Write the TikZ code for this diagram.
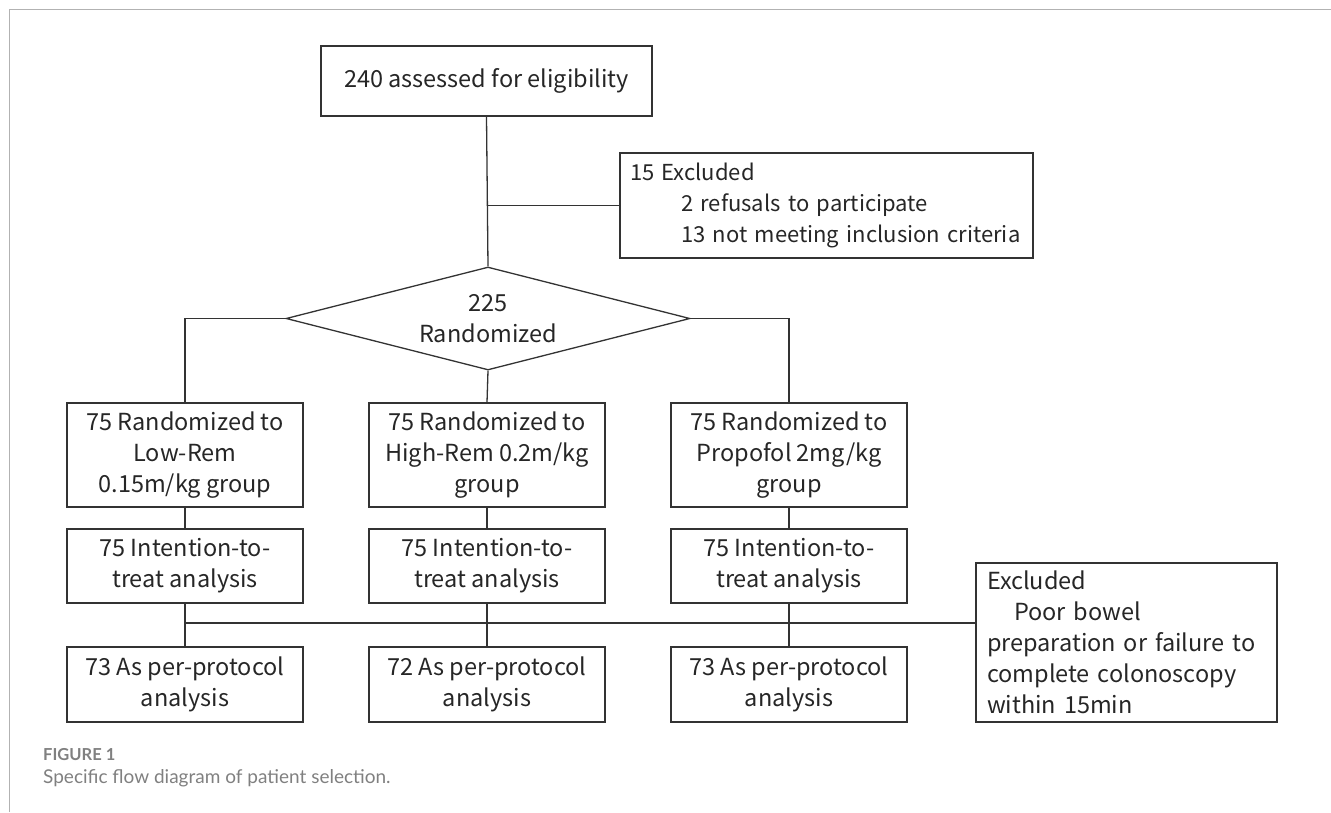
\documentclass[tikz,border=0pt]{standalone}
\usepackage{fontspec}
\setmainfont{Noto Sans CJK SC}
\newfontfamily\capfont{Lato}
\usetikzlibrary{shapes.geometric}
\begin{document}
\begin{tikzpicture}[x=1pt,y=-1pt,
  box/.style={draw=black!80, line width=1.3pt, rectangle, inner sep=0pt, align=center,
    font=\fontsize{23.5}{31}\selectfont, text=black!85},
  lbox/.style={box, align=left, inner xsep=10pt},
  conn/.style={draw=black!80, line width=1.3pt},
  capt/.style={anchor=base west, text=black!50, inner sep=0pt},
]
\useasboundingbox (0,0) rectangle (1331,812);
\draw[black!30, line width=1.5pt] (9.3,812) -- (9.3,9.3) -- (1331,9.3);

\node[box, minimum width=331pt, minimum height=70pt] (elig) at (486.5,81) {240 assessed for eligibility};
\node[lbox, text width=393pt, minimum height=105pt, font=\fontsize{22}{31}\selectfont] (excl1) at (826.5,205.5)
  {\mbox{15 Excluded}\\\mbox{\hspace*{51pt}2 refusals to participate}\\\mbox{\hspace*{51pt}13 not meeting inclusion criteria}};
\node[draw=black!80, line width=1.3pt, diamond, aspect=3.92, minimum width=404pt, minimum height=103pt,
  inner sep=0pt, align=center, font=\fontsize{23.5}{31}\selectfont, text=black!85] (rand) at (488,318.5)
  {225\\Randomized};

\foreach \n/\x in {a/185,b/487,c/789}{
  \node[box, minimum width=236pt, minimum height=104pt] (r1\n) at (\x,455) {};
  \node[box, minimum width=236pt, minimum height=74pt] (r2\n) at (\x,566) {75 Intention-to-\\treat analysis};
}
\node[align=center, font=\fontsize{23.5}{31}\selectfont, text=black!85] (t1a) at (r1a) {75 Randomized to\\Low-Rem\\0.15m/kg group};
\node[align=center, font=\fontsize{23.5}{31}\selectfont, text=black!85] (t1b) at (r1b) {75 Randomized to\\High-Rem 0.2m/kg\\group};
\node[align=center, font=\fontsize{23.5}{31}\selectfont, text=black!85] (t1c) at (r1c) {75 Randomized to\\Propofol 2mg/kg\\group};

\node[box, minimum width=236pt, minimum height=75pt] (r3a) at (185,684.5) {73 As per-protocol\\analysis};
\node[box, minimum width=236pt, minimum height=75pt] (r3b) at (487,684.5) {72 As per-protocol\\analysis};
\node[box, minimum width=236pt, minimum height=75pt] (r3c) at (789,684.5) {73 As per-protocol\\analysis};

\node[lbox, inner xsep=11pt, text width=279pt, minimum height=159pt] (excl2) at (1126.5,642.5)
  {\mbox{Excluded}\\\mbox{\hspace*{27pt}Poor bowel}\\\mbox{preparation or failure to}\\\mbox{complete colonoscopy}\\\mbox{within 15min}};

% connectors
\draw[conn] (elig.south) -- (rand.north);
\draw[conn] (elig.south |- excl1.west) -- (excl1.west);
\draw[conn] (rand.west) -| (r1a.north);
\draw[conn] (rand.east) -| (r1c.north);
\draw[conn] (rand.south) -- (r1b.north);
\foreach \n in {a,b,c}{
  \draw[conn] (r1\n.south) -- (r2\n.north);
  \draw[conn] (r2\n.south) -- (r3\n.north);
}
\coordinate (hl) at (185,623);
\draw[conn] (hl) -- (hl -| excl2.west);

% caption
\node[capt, font=\capfont\bfseries\fontsize{16.5}{18}\selectfont] (figlabel) at (43,760) {FIGURE 1};
\node[capt, font=\capfont\fontsize{19}{21}\selectfont] (caption) at (43,783) {Specific flow diagram of patient selection.};
\end{tikzpicture}
\end{document}
